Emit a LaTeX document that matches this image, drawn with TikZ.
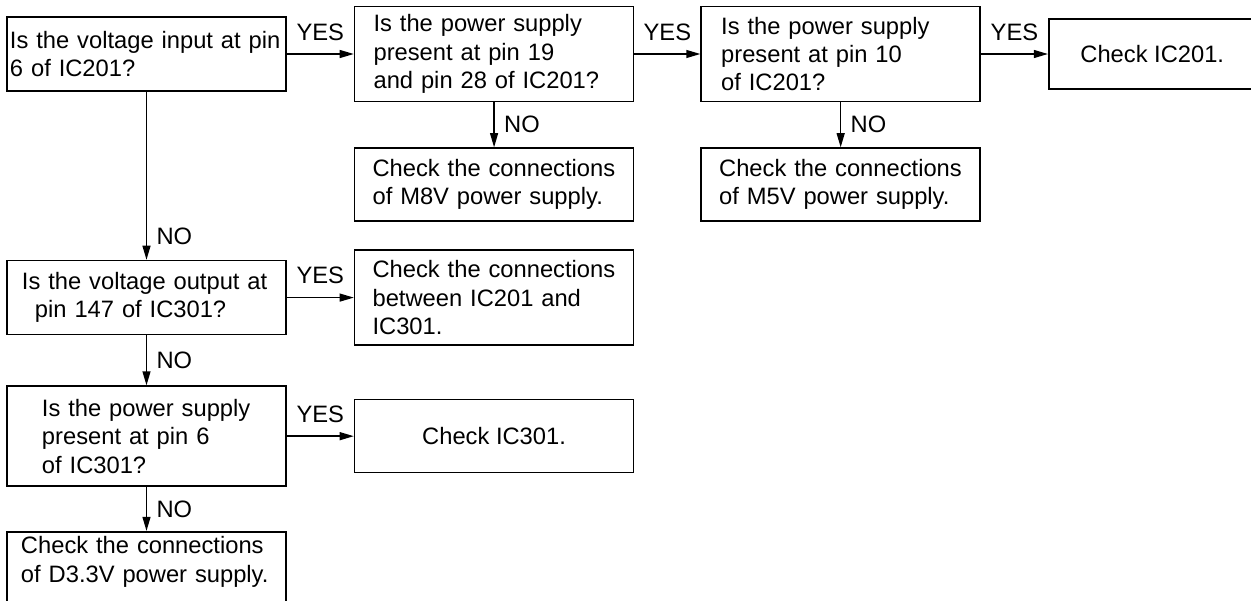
\documentclass[tikz,border=0pt]{standalone}
\usepackage{fontspec}
\setmainfont{Liberation Sans}
\usetikzlibrary{arrows.meta,positioning}
\tikzset{
  askbox/.style={draw, line width=0.9pt, align=left, inner ysep=0pt},
  fixbox/.style={draw, line width=0.9pt, align=center, inner ysep=0pt},
  flowarrow/.style={-{Triangle[length=8pt,width=4.5pt]}, line width=0.8pt},
  yeslabel/.style={midway, above=4pt},
  nolabel/.style={midway, right=2pt}
}

\begin{document}
\begin{tikzpicture}[font=\fontsize{13.5}{16.2}\selectfont]
    \useasboundingbox (0,0) rectangle (25.02,-12);
    \clip (0,0) rectangle (25.02,-12);
    % top row
    \node[askbox, inner xsep=0.06cm, text width=5.46cm, minimum height=1.48cm] (q6) at (2.93,-1.08) {Is the voltage input at pin\\6 of IC201?};
    \node[askbox, inner xsep=0.38cm, text width=4.82cm, minimum height=1.9cm, right=1.34cm of q6] (q19) {Is the power supply\\present at pin 19\\and pin 28 of IC201?};
    \node[askbox, inner xsep=0.4cm, text width=4.78cm, minimum height=1.9cm, right=1.32cm of q19] (q10) {Is the power supply\\present at pin 10\\of IC201?};
    \node[fixbox, minimum width=4.14cm, minimum height=1.4cm, right=1.34cm of q10] (c201) {Check IC201.};
    \node[askbox, inner xsep=0.36cm, text width=4.86cm, minimum height=1.46cm, below=0.9cm of q19] (m8v) {Check the connections\\of M8V power supply.};
    \node[askbox, inner xsep=0.36cm, text width=4.86cm, minimum height=1.46cm, below=0.9cm of q10] (m5v) {Check the connections\\of M5V power supply.};
    % left column
    \node[askbox, inner xsep=0.3cm, text width=4.98cm, minimum height=1.48cm, below=3.36cm of q6] (q147) {Is the voltage output at\\\hspace*{0.26cm}pin 147 of IC301?};
    \node[askbox, inner xsep=0.36cm, text width=4.86cm, minimum height=1.9cm, right=1.34cm of q147] (link) {Check the connections\\between IC201 and\\IC301.};
    \node[askbox, inner xsep=0.7cm, text width=4.18cm, minimum height=2cm, below=1cm of q147] (q6b) {Is the power supply\\present at pin 6\\of IC301?};
    \node[fixbox, minimum width=5.58cm, minimum height=1.46cm, right=1.34cm of q6b] (c301) {Check IC301.};
    \node[askbox, inner xsep=0.28cm, inner ysep=0.1cm, text width=5.02cm, below=0.88cm of q6b] (d33) {Check the connections\\of D3.3V power supply.\rule[-0.7cm]{0pt}{0.1cm}};
    \draw[flowarrow] (q6) -- node[yeslabel] {YES} (q19);
    \draw[flowarrow] (q19) -- node[yeslabel] {YES} (q10);
    \draw[flowarrow] (q10) -- node[yeslabel] {YES} (c201);
    \draw[flowarrow] (q19) -- node[nolabel] {NO} (m8v);
    \draw[flowarrow] (q10) -- node[nolabel] {NO} (m5v);
    \draw[flowarrow] (q6) -- node[nolabel, pos=0.86] {NO} (q147);
    \draw[flowarrow] (q147) -- node[yeslabel] {YES} (link);
    \draw[flowarrow] (q147) -- node[nolabel] {NO} (q6b);
    \draw[flowarrow] (q6b) -- node[yeslabel] {YES} (c301);
    \draw[flowarrow] (q6b) -- node[nolabel] {NO} (d33);
  \end{tikzpicture}
\end{document}
